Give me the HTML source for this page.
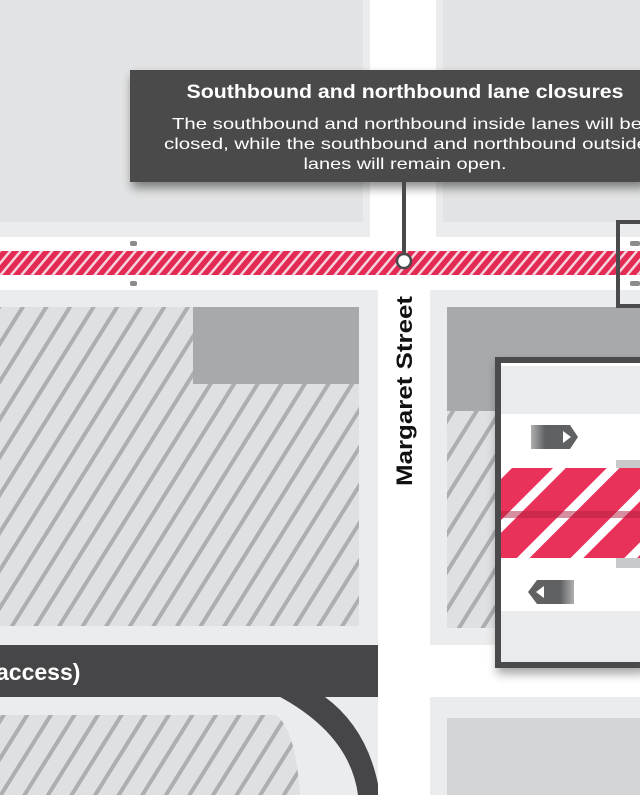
<!DOCTYPE html>
<html><head><meta charset="utf-8"><style>
html,body{margin:0;padding:0;background:#fff;}
svg{display:block;}
</style></head><body>
<svg width="640" height="795" viewBox="0 0 640 795" xmlns="http://www.w3.org/2000/svg">
<defs>
<pattern id="gh" width="20" height="20" patternUnits="userSpaceOnUse" patternTransform="rotate(32)">
<rect width="20" height="20" fill="#dfe0e1"/><rect x="0" width="4" height="20" fill="#adaeaf"/>
</pattern>
<pattern id="rh" width="8" height="8" patternUnits="userSpaceOnUse" patternTransform="rotate(40)">
<rect width="8" height="8" fill="#e32a55"/><rect x="0" width="2.5" height="8" fill="#f6d3dc"/>
</pattern>
<pattern id="rb" width="38" height="38" patternUnits="userSpaceOnUse" patternTransform="rotate(45)">
<rect width="38" height="38" fill="#e8325a"/><rect x="0" width="9" height="38" fill="#fff"/>
</pattern>
<linearGradient id="ar" x1="0" x2="1"><stop offset="0" stop-color="#606163" stop-opacity="0.5"/><stop offset="0.3" stop-color="#606163"/><stop offset="1" stop-color="#606163"/></linearGradient>
<linearGradient id="al" x1="1" x2="0"><stop offset="0" stop-color="#606163" stop-opacity="0.5"/><stop offset="0.3" stop-color="#606163"/><stop offset="1" stop-color="#606163"/></linearGradient>
<filter id="sh" x="-10%" y="-20%" width="120%" height="150%"><feGaussianBlur stdDeviation="5"/></filter>
</defs>
<rect width="640" height="795" fill="#ffffff"/>
<rect x="0" y="0" width="370" height="237" fill="#ebeced"/>
<rect x="0" y="0" width="363" height="222" fill="#e2e3e4"/>
<rect x="436" y="0" width="204" height="237" fill="#ebeced"/>
<rect x="443" y="0" width="197" height="222" fill="#e2e3e4"/>
<rect x="0" y="290" width="378" height="355" fill="#ebeced"/>
<rect x="0" y="307" width="359" height="319" fill="url(#gh)"/>
<rect x="193" y="307" width="166" height="77" fill="#a8a9ab"/>
<rect x="430" y="290" width="210" height="355" fill="#ebeced"/>
<rect x="447" y="307" width="193" height="321" fill="url(#gh)"/>
<rect x="447" y="307" width="193" height="104" fill="#a8a9ab"/>
<rect x="430" y="697" width="210" height="98" fill="#ebeced"/>
<rect x="447" y="718" width="193" height="77" fill="#d4d5d6"/>
<rect x="0" y="697" width="378" height="98" fill="#ebeced"/>
<path d="M0 715 L285 715 Q303 720 303 740 L303 795 L0 795 Z" fill="url(#gh)"/>
<rect x="0" y="645" width="378" height="52" fill="#464648"/>
<path d="M280 697 L325 697 Q370 730 380 795 L358 795 Q350 735 280 697 Z" fill="#464648"/>
<path d="M0 697 L280 697 Q345 732 357 795 L300 795 Q295 720 270 712 L0 712 Z" fill="#ebeced"/>
<text x="-4" y="680" font-family="Liberation Sans, sans-serif" font-weight="bold" font-size="23" fill="#fff">access)</text>
<rect x="378" y="0" width="52" height="795" fill="#fff"/>
<rect x="0" y="237" width="640" height="53" fill="#fff"/>
<rect x="0" y="251" width="640" height="24" fill="url(#rh)"/>
<g fill="#8a8b8d"><rect x="130" y="241" width="7" height="5" rx="2"/><rect x="130" y="281" width="7" height="5" rx="2"/><rect x="630" y="241" width="10" height="5" rx="2"/><rect x="630" y="281" width="10" height="5" rx="2"/></g>
<rect x="618" y="222" width="30" height="84" fill="none" stroke="#4a4a4c" stroke-width="4"/>
<rect x="132" y="76" width="515" height="112" fill="#000" opacity="0.45" filter="url(#sh)"/>
<rect x="130" y="70" width="515" height="112" fill="#4a4a4b"/>
<line x1="404" y1="182" x2="404" y2="258" stroke="#4a4a4b" stroke-width="4"/>
<circle cx="404" cy="261" r="7" fill="#fff" stroke="#4a4a4b" stroke-width="2.5"/>
<g font-family="Liberation Sans, sans-serif" fill="#fff" text-anchor="middle" lengthAdjust="spacingAndGlyphs">
<text x="405" y="98" font-size="19" font-weight="bold" textLength="437" lengthAdjust="spacingAndGlyphs">Southbound and northbound lane closures</text>
<text x="407" y="129" font-size="16" textLength="470" lengthAdjust="spacingAndGlyphs">The southbound and northbound inside lanes will be</text>
<text x="406" y="149" font-size="16" textLength="484" lengthAdjust="spacingAndGlyphs">closed, while the southbound and northbound outside</text>
<text x="405" y="169" font-size="16" textLength="203" lengthAdjust="spacingAndGlyphs">lanes will remain open.</text>
</g>
<text transform="translate(412,486) rotate(-90)" font-family="Liberation Sans, sans-serif" font-weight="bold" font-size="22" fill="#111" textLength="190" lengthAdjust="spacingAndGlyphs">Margaret Street</text>
<rect x="497" y="362" width="150" height="312" fill="#000" opacity="0.35" filter="url(#sh)"/>
<rect x="498" y="360" width="150" height="305" fill="#fff" stroke="#4a4a4c" stroke-width="6"/>
<rect x="501" y="366" width="139" height="48" fill="#eaebec"/>
<rect x="501" y="611" width="139" height="51" fill="#eaebec"/>
<rect x="616" y="460" width="24" height="108" fill="#c8c9ca"/>
<rect x="501" y="468" width="139" height="90" fill="url(#rb)"/>
<rect x="501" y="511" width="139" height="7" fill="#b02040" opacity="0.5"/>
<path d="M531 425 L570 425 L578 437 L570 449 L531 449 Z" fill="url(#ar)"/>
<path d="M563 431 L571 437 L563 443 Z" fill="#fff"/>
<path d="M574 580 L537 580 L528 592 L537 604 L574 604 Z" fill="url(#al)"/>
<path d="M544 586 L536 592 L544 598 Z" fill="#fff"/>
</svg>
</body></html>
